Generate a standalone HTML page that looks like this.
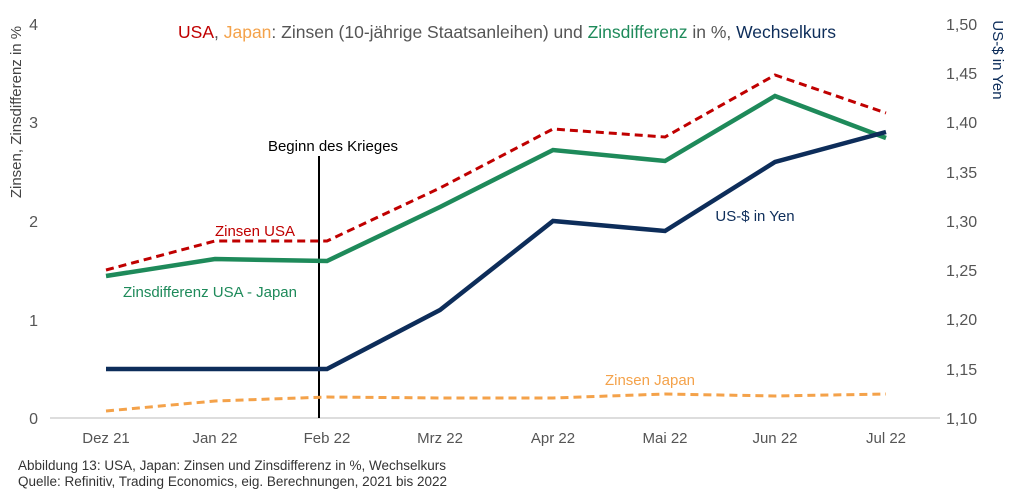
<!DOCTYPE html>
<html><head><meta charset="utf-8"><style>
body{margin:0;background:#fff;}
svg text{font-family:"Liberation Sans",sans-serif;}
</style></head><body>
<svg width="1011" height="496" xmlns="http://www.w3.org/2000/svg">
<rect width="1011" height="496" fill="#fff"/>
<text x="507" y="38" font-size="17.5" text-anchor="middle" fill="#555"><tspan fill="#c00000">USA</tspan>, <tspan fill="#f4a24a">Japan</tspan>: Zinsen (10-jährige Staatsanleihen) und <tspan fill="#1e8a5a">Zinsdifferenz</tspan> in %, <tspan fill="#0d2d5a">Wechselkurs</tspan></text>
<text transform="translate(21,112) rotate(-90)" font-size="15" text-anchor="middle" fill="#444">Zinsen, Zinsdifferenz in %</text>
<text transform="translate(993,60) rotate(90)" font-size="15" text-anchor="middle" fill="#0d2d5a">US-$ in Yen</text>
<g font-size="16" fill="#555" text-anchor="end">
<text x="38" y="424">0</text><text x="38" y="326">1</text><text x="38" y="227">2</text><text x="38" y="128">3</text><text x="38" y="30">4</text>
</g>
<g font-size="16" fill="#555" text-anchor="start">
<text x="946" y="424">1,10</text><text x="946" y="375">1,15</text><text x="946" y="325">1,20</text><text x="946" y="276">1,25</text><text x="946" y="227">1,30</text><text x="946" y="178">1,35</text><text x="946" y="128">1,40</text><text x="946" y="79">1,45</text><text x="946" y="30">1,50</text>
</g>
<line x1="50" y1="418" x2="940" y2="418" stroke="#bbb" stroke-width="1"/>
<g font-size="15" fill="#555" text-anchor="middle">
<text x="106" y="443">Dez 21</text><text x="215" y="443">Jan 22</text><text x="327" y="443">Feb 22</text><text x="440" y="443">Mrz 22</text><text x="553" y="443">Apr 22</text><text x="665" y="443">Mai 22</text><text x="775" y="443">Jun 22</text><text x="886" y="443">Jul 22</text>
</g>
<line x1="319" y1="156" x2="319" y2="418" stroke="#000" stroke-width="2"/>
<text x="333" y="151" font-size="15" text-anchor="middle" fill="#000">Beginn des Krieges</text>
<polyline fill="none" stroke="#f4a24a" stroke-width="3" stroke-dasharray="8,5" points="106,411 215,401 327,397 440,398 553,398 665,394 775,396 886,394"/>
<polyline fill="none" stroke="#c00000" stroke-width="3" stroke-dasharray="8,5" points="106,270 215,241 327,241 440,188 553,129 665,137 775,75 886,113"/>
<polyline fill="none" stroke="#1e8a5a" stroke-width="4.5" points="106,276 215,259 327,261 440,207 553,150 665,161 775,96 886,138"/>
<polyline fill="none" stroke="#0d2d5a" stroke-width="4.5" points="106,369 215,369 327,369 440,310 553,221 665,231 775,162 886,132"/>
<text x="255" y="236" font-size="15" text-anchor="middle" fill="#c00000">Zinsen USA</text>
<text x="210" y="297" font-size="15" text-anchor="middle" fill="#1e8a5a">Zinsdifferenz USA - Japan</text>
<text x="755" y="221" font-size="15" text-anchor="middle" fill="#0d2d5a">US-$ in Yen</text>
<text x="650" y="385" font-size="15" text-anchor="middle" fill="#f4a24a">Zinsen Japan</text>
<text x="18" y="470" font-size="13.5" fill="#333">Abbildung 13: USA, Japan: Zinsen und Zinsdifferenz in %, Wechselkurs</text>
<text x="18" y="486" font-size="13.5" fill="#333">Quelle: Refinitiv, Trading Economics, eig. Berechnungen, 2021 bis 2022</text>
</svg>
</body></html>
